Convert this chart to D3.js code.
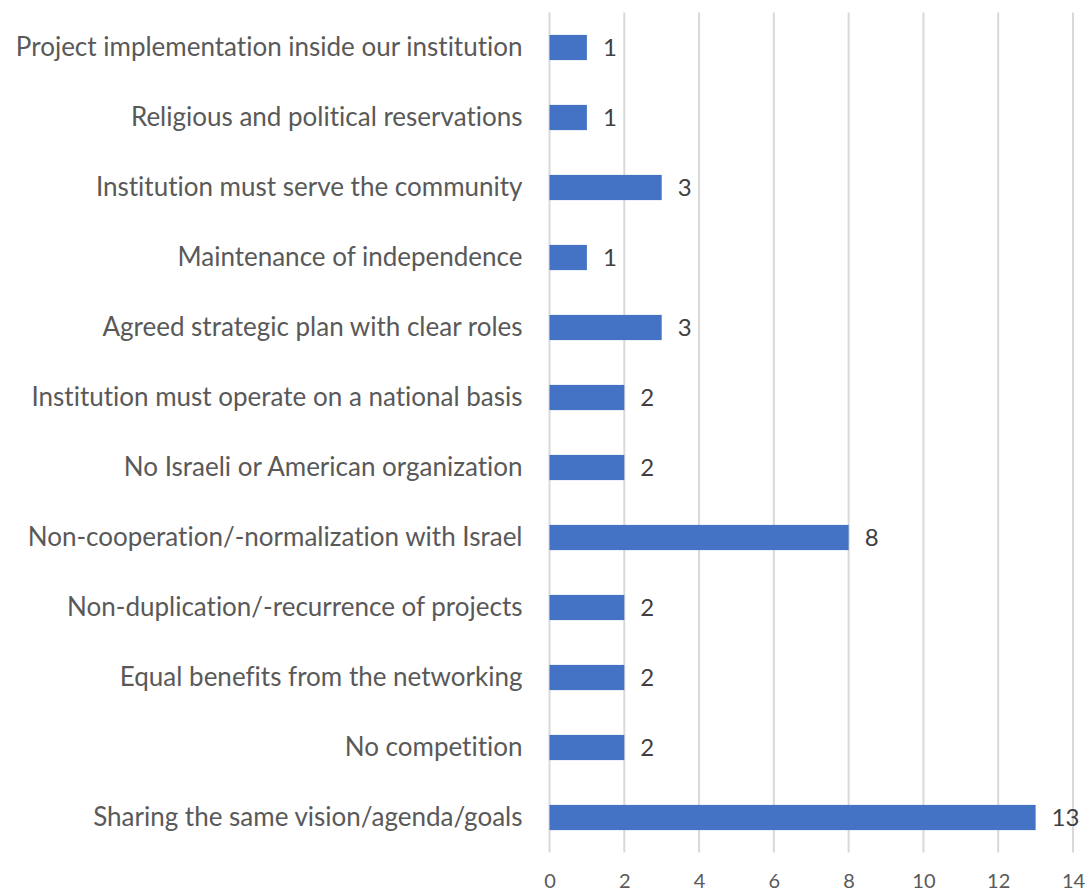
<!DOCTYPE html>
<html><head><meta charset="utf-8">
<script src="https://cdn.jsdelivr.net/npm/d3@7"></script>
<style>body{margin:0;background:#fff}svg{display:block}text{font-variant-ligatures:none}</style>
</head><body>
<svg id="c" width="1090" height="893"></svg>
<script>
const categories = [
  "Project implementation inside our institution",
  "Religious and political reservations",
  "Institution must serve the community",
  "Maintenance of independence",
  "Agreed strategic plan with clear roles",
  "Institution must operate on a national basis",
  "No Israeli or American organization",
  "Non-cooperation/-normalization with Israel",
  "Non-duplication/-recurrence of projects",
  "Equal benefits from the networking",
  "No competition",
  "Sharing the same vision/agenda/goals"
];
const values = [1, 1, 3, 1, 3, 2, 2, 8, 2, 2, 2, 13];
const tickValues = [0, 2, 4, 6, 8, 10, 12, 14];

const svg = d3.select("#c");
const x = d3.scaleLinear().domain([0, 14]).range([549.5, 1073]);
const y = d3.scaleBand().domain(categories).range([12.5, 852.5]).paddingInner(0.64).paddingOuter(0.32);
const font = "Lato, sans-serif";

svg.append("g").selectAll("line").data(tickValues).join("line")
  .attr("x1", d => x(d)).attr("x2", d => x(d))
  .attr("y1", 12.5).attr("y2", 852.5)
  .attr("stroke", "#d9d9d9").attr("stroke-width", 2);

const xAxis = d3.axisBottom(x).tickValues(tickValues).tickSize(0).tickPadding(0);
const gx = svg.append("g").attr("transform", "translate(0,852.5)").call(xAxis);
gx.select(".domain").remove();
gx.selectAll("text").attr("font-family", font).attr("font-size", 20).attr("fill", "#595959").attr("dy", "1.75em");

const yAxis = d3.axisLeft(y).tickSize(0).tickPadding(27);
const gy = svg.append("g").attr("transform", "translate(549.5,0)").call(yAxis);
gy.select(".domain").remove();
gy.selectAll("text").attr("font-family", font).attr("font-size", 26).attr("fill", "#595959");

svg.append("g").selectAll("rect").data(values).join("rect")
  .attr("x", x(0)).attr("y", (d, i) => y(categories[i]))
  .attr("width", d => x(d) - x(0)).attr("height", y.bandwidth())
  .attr("fill", "#4472C4");

svg.append("g").selectAll("text").data(values).join("text")
  .attr("x", d => x(d) + 16).attr("y", (d, i) => y(categories[i]) + y.bandwidth() / 2)
  .attr("dy", "0.35em").attr("font-family", font).attr("font-size", 24).attr("fill", "#404040")
  .text(d => d);
</script>
</body></html>
